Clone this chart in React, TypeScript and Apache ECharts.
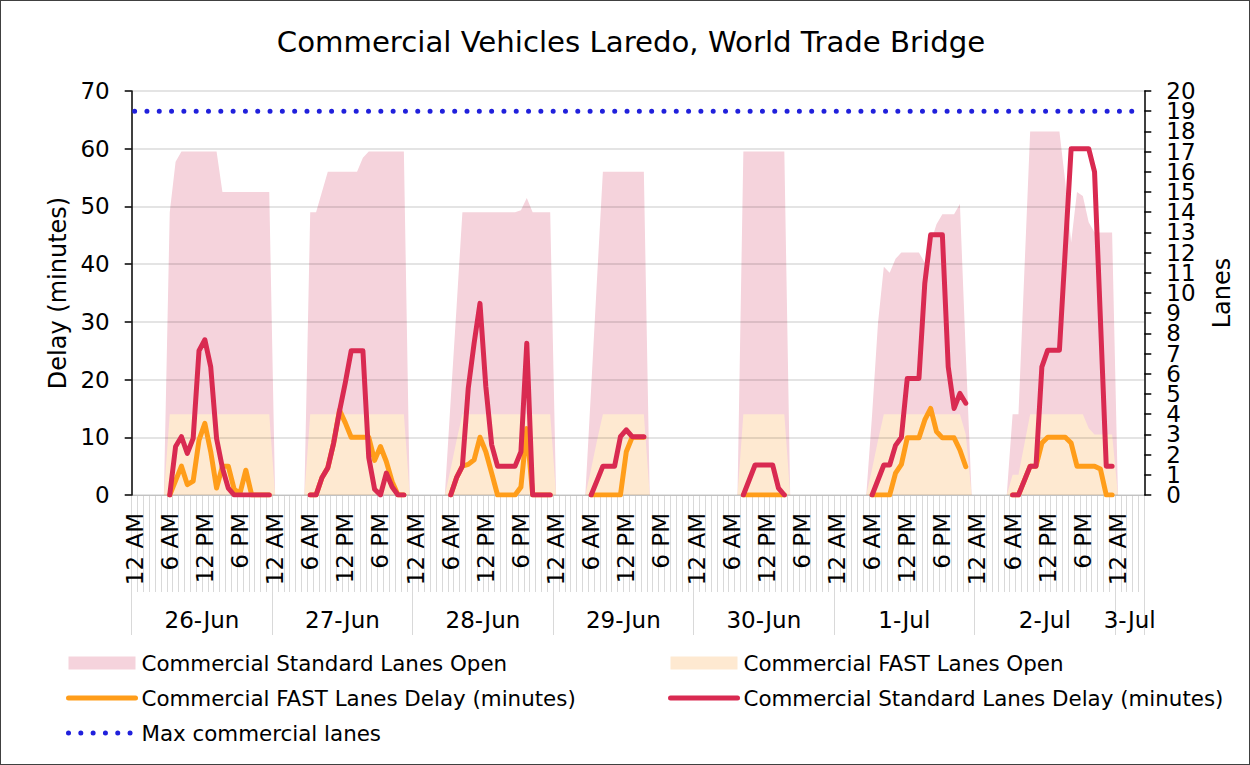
import { useEffect, useRef } from "react";
import * as echarts from "echarts";

// ---------- data ----------
const dayLabels = ["26-Jun", "27-Jun", "28-Jun", "29-Jun", "30-Jun", "1-Jul", "2-Jul", "3-Jul"];
const hoursPerDay = [24, 24, 24, 24, 24, 24, 24, 5];
const hourLabels = [
  "12 AM", "1 AM", "2 AM", "3 AM", "4 AM", "5 AM", "6 AM", "7 AM", "8 AM", "9 AM", "10 AM", "11 AM",
  "12 PM", "1 PM", "2 PM", "3 PM", "4 PM", "5 PM", "6 PM", "7 PM", "8 PM", "9 PM", "10 PM", "11 PM",
];
const delayTicks = [0, 10, 20, 30, 40, 50, 60, 70];
const laneTicksEven = [0, 2, 4, 6, 8, 10, 12, 14, 16, 18, 20];
const laneTicksOdd = [1, 3, 5, 7, 9, 11, 13, 15, 17, 19];
const laneMax = 20;
const maxCommercialLanes = 19;

const _ = null;

// Commercial Standard Lanes Open (lanes, right axis)
const standardLanesOpen = [
  0, 0, 0, 0, 0, 0, 14, 16.5, 17, 17, 17, 17, 17, 17, 17, 15, 15, 15, 15, 15, 15, 15, 15, 15,
  0, 0, 0, 0, 0, 0, 14, 14, 15, 16, 16, 16, 16, 16, 16, 16.7, 17, 17, 17, 17, 17, 17, 17, 0,
  0, 0, 0, 0, 0, 0, 4.7, 9.3, 14, 14, 14, 14, 14, 14, 14, 14, 14, 14, 14.1, 14.7, 14, 14, 14, 14,
  0, 0, 0, 0, 0, 0, 5.3, 10.7, 16, 16, 16, 16, 16, 16, 16, 16, 0, 0, 0, 0, 0, 0, 0, 0,
  0, 0, 0, 0, 0, 0, 0, 0, 17, 17, 17, 17, 17, 17, 17, 17, 0, 0, 0, 0, 0, 0, 0, 0,
  0, 0, 0, 0, 0, 0, 4, 8.5, 11.3, 11, 11.7, 12, 12, 12, 12, 11.5, 12.5, 13.4, 13.9, 13.9, 13.9, 14.4, 7, 0,
  0, 0, 0, 0, 0, 0, 4, 4, 11, 18, 18, 18, 18, 18, 18, 15.5, 12.5, 15, 14.8, 13.5, 13, 13, 13, 13,
  0, 0, 0, 0, 0,
];

// Commercial FAST Lanes Open (lanes, right axis)
const fastLanesOpen = [
  0, 0, 0, 0, 0, 0, 4, 4, 4, 4, 4, 4, 4, 4, 4, 4, 4, 4, 4, 4, 4, 4, 4, 4,
  0, 0, 0, 0, 0, 0, 4, 4, 4, 4, 4, 4, 4, 4, 4, 4, 4, 4, 4, 4, 4, 4, 4, 0,
  0, 0, 0, 0, 0, 0, 1.3, 2.7, 4, 4, 4, 4, 4, 4, 4, 4, 4, 4, 4, 4, 4, 4, 4, 4,
  0, 0, 0, 0, 0, 0, 1.3, 2.7, 4, 4, 4, 4, 4, 4, 4, 4, 0, 0, 0, 0, 0, 0, 0, 0,
  0, 0, 0, 0, 0, 0, 0, 0, 4, 4, 4, 4, 4, 4, 4, 4, 0, 0, 0, 0, 0, 0, 0, 0,
  0, 0, 0, 0, 0, 0, 1.3, 2.7, 4, 4, 4, 4, 4, 4, 4, 4, 4, 4, 4, 4, 4, 4, 3, 0,
  0, 0, 0, 0, 0, 0, 1, 1, 2.5, 4, 4, 4, 4, 4, 4, 4, 4, 4, 4, 3.3, 3, 3, 3, 3,
  0, 0, 0, 0, 0,
];

// Commercial FAST Lanes Delay (minutes, left axis)
const fastLanesDelay = [
  _, _, _, _, _, _, 0, 2.5, 5, 1.8, 2.4, 9.5, 12.4, 7.5, 1.2, 5, 5, 1, 0.3, 4.3, 0, 0, 0, 0,
  _, _, _, _, _, _, 0, 0, 3, 4.7, 9, 14.7, 12.5, 10, 10, 10, 10, 6, 8.4, 5.8, 2.3, 0, 0, _,
  _, _, _, _, _, _, 0, 3, 5, 5.3, 6.1, 10, 7.5, 3.8, 0, 0, 0, 0, 1.4, 11.5, 0, 0, 0, 0,
  _, _, _, _, _, _, 0, 0, 0, 0, 0, 0, 7.5, 10, 10, 10, _, _, _, _, _, _, _, _,
  _, _, _, _, _, _, _, _, 0, 0, 0, 0, 0, 0, 0, 0, _, _, _, _, _, _, _, _,
  _, _, _, _, _, _, 0, 0, 0, 0, 3.8, 5.3, 9.9, 9.9, 9.9, 13, 15, 11, 9.9, 9.9, 9.9, 7.8, 4.9, _,
  _, _, _, _, _, _, 0, 0, 2.5, 5, 5, 9, 10, 10, 10, 10, 9, 5, 5, 5, 5, 4.5, 0, 0,
  _, _, _, _, _,
];

// Commercial Standard Lanes Delay (minutes, left axis)
const standardLanesDelay = [
  _, _, _, _, _, _, 0, 8.4, 10.1, 7.2, 9.8, 25, 26.9, 22.2, 9.8, 4.7, 1.2, 0, 0, 0, 0, 0, 0, 0,
  _, _, _, _, _, _, 0, 0, 3, 4.7, 9, 14.5, 19.5, 25, 25, 25, 6.5, 1, 0, 3.8, 1.4, 0, 0, _,
  _, _, _, _, _, _, 0, 3, 5, 18.5, 26.3, 33.2, 18.8, 8.7, 5, 5, 5, 5, 7.5, 26.3, 0, 0, 0, 0,
  _, _, _, _, _, _, 0, 2.5, 5, 5, 5, 10.1, 11.3, 10.1, 10.1, 10.1, _, _, _, _, _, _, _, _,
  _, _, _, _, _, _, _, _, 0, 2.6, 5.2, 5.2, 5.2, 5.2, 1.2, 0, _, _, _, _, _, _, _, _,
  _, _, _, _, _, _, 0, 2.6, 5.2, 5.2, 8.6, 10, 20.2, 20.2, 20.2, 36.7, 45.1, 45.1, 45.1, 22.2, 15, 17.6, 15.9, _,
  _, _, _, _, _, _, 0, 0, 2.5, 5, 5, 22.2, 25.1, 25.1, 25.1, 42.5, 60, 60, 60, 60, 56, 30.5, 5, 5,
  _, _, _, _, _,
];

// ---------- derived axis helpers ----------
const categories: string[] = dayLabels.flatMap((d, k) =>
  hourLabels.slice(0, hoursPerDay[k]).map((h) => `${d} ${h}`)
);
const totalHours = categories.length;
const dayStarts: number[] = [];
hoursPerDay.reduce((acc, n) => {
  dayStarts.push(acc);
  return acc + n;
}, 0);
const dayBoundaries = [...dayStarts, totalHours];
const dayCenters = dayStarts.map((s, k) => s + hoursPerDay[k] / 2);

const FONT = "'DejaVu Sans', Verdana, sans-serif";
const TITLE = "Commercial Vehicles Laredo, World Trade Bridge";
const SERIES_STD_OPEN = "Commercial Standard Lanes Open";
const SERIES_FAST_OPEN = "Commercial FAST Lanes Open";
const SERIES_FAST_DELAY = "Commercial FAST Lanes Delay (minutes)";
const SERIES_STD_DELAY = "Commercial Standard Lanes Delay (minutes)";
const SERIES_MAX = "Max commercial lanes";

const PINK = "#f5d3dc";
const CREAM = "#fee9d1";
const ORANGE = "#ff9d1a";
const CRIMSON = "#d92a51";
const BLUE = "#2020dc";
const LINE_W = 5;
const DOT_STYLE = { width: 5, color: BLUE, type: [0.01, 12.3], cap: "round" };

function buildOption(): any {
  const legendCommon = {
    orient: "vertical",
    top: 650,
    padding: 0,
    itemWidth: 67,
    itemHeight: 13,
    itemGap: 9,
    selectedMode: false,
    textStyle: { fontSize: 21.4, color: "#000", fontFamily: FONT, lineHeight: 26, padding: [0, 0, 0, 1] },
  };
  const hiddenSymbol = { opacity: 0 };
  const laneLabelStyle = {
    fontSize: 23,
    color: "#000",
    fontFamily: FONT,
    margin: 22,
    hideOverlap: false,
  };
  return {
    animation: false,
    backgroundColor: "#ffffff",
    textStyle: { fontFamily: FONT },
    graphic: [
      {
        type: "text",
        x: 631,
        y: 42,
        style: {
          text: TITLE,
          fill: "#000",
          font: `29.2px ${FONT}`,
          textAlign: "center",
          textVerticalAlign: "middle",
        },
      },
    ],
    grid: {
      left: 131.7,
      right: 105.7,
      top: 91,
      bottom: 270,
      containLabel: false,
      outerBoundsMode: "none",
    },
    legend: [
      {
        ...legendCommon,
        left: 66,
        data: [
          { name: SERIES_STD_OPEN, icon: "rect" },
          { name: SERIES_FAST_DELAY, itemStyle: hiddenSymbol, lineStyle: { width: LINE_W, color: ORANGE } },
          { name: SERIES_MAX, itemStyle: hiddenSymbol, lineStyle: DOT_STYLE },
        ],
      },
      {
        ...legendCommon,
        left: 668,
        data: [
          { name: SERIES_FAST_OPEN, icon: "rect" },
          { name: SERIES_STD_DELAY, itemStyle: hiddenSymbol, lineStyle: { width: LINE_W, color: CRIMSON } },
        ],
      },
    ],
    xAxis: [
      {
        type: "category",
        data: categories,
        boundaryGap: true,
        axisLine: { show: true, lineStyle: { color: "#d9d9d9", width: 1 } },
        axisTick: { show: true, interval: 0, length: 97, lineStyle: { color: "#d9d9d9", width: 1 } },
        axisLabel: {
          interval: (i: number) => i % 6 === 0,
          rotate: 90,
          fontSize: 23,
          color: "#000",
          fontFamily: FONT,
          margin: 18,
          formatter: (v: string) => v.split(" ").slice(1).join(" "),
        },
        splitLine: { show: false },
      },
      {
        type: "value",
        position: "bottom",
        min: 0,
        max: totalHours,
        axisLine: { show: false },
        axisTick: {
          show: true,
          customValues: dayBoundaries,
          length: 140,
          lineStyle: { color: "#d9d9d9", width: 1 },
        },
        axisLabel: {
          customValues: dayCenters,
          fontSize: 23,
          color: "#000",
          fontFamily: FONT,
          margin: 113,
          formatter: (v: number) => {
            const k = dayCenters.findIndex((c) => Math.abs(c - v) < 0.01);
            return k >= 0 ? dayLabels[k] : "";
          },
        },
        splitLine: { show: false },
      },
    ],
    yAxis: [
      {
        type: "value",
        position: "left",
        min: delayTicks[0],
        max: delayTicks[delayTicks.length - 1],
        interval: delayTicks[1] - delayTicks[0],
        name: "Delay (minutes)",
        nameLocation: "middle",
        nameRotate: 90,
        nameGap: 62,
        nameTextStyle: { fontSize: 24, color: "#000", fontFamily: FONT },
        axisLine: { show: true, lineStyle: { color: "#000", width: 1.5 } },
        axisTick: { show: true, length: 7, lineStyle: { color: "#000", width: 1.5 } },
        axisLabel: {
          fontSize: 23,
          color: "#000",
          fontFamily: FONT,
          margin: 22,
          showMinLabel: true,
          showMaxLabel: true,
          hideOverlap: false,
        },
        splitLine: { show: true, lineStyle: { color: "rgba(0,0,0,0.14)", width: 1.5 } },
        z: 3,
      },
      {
        // Lanes axis: line, ticks and even labels
        type: "value",
        position: "right",
        min: 0,
        max: laneMax,
        interval: 1,
        name: "Lanes",
        nameLocation: "middle",
        nameRotate: 90,
        nameGap: 66,
        nameTextStyle: { fontSize: 24, color: "#000", fontFamily: FONT },
        axisLine: { show: true, lineStyle: { color: "#000", width: 1.5 } },
        axisTick: { show: true, length: 7, lineStyle: { color: "#000", width: 1.5 } },
        axisLabel: { ...laneLabelStyle, customValues: laneTicksEven, showMinLabel: true, showMaxLabel: true },
        splitLine: { show: false },
        z: 3,
      },
      {
        // Lanes axis: odd labels only (so dense labels are all kept)
        type: "value",
        position: "right",
        offset: 0,
        min: 0,
        max: laneMax,
        interval: 1,
        axisLine: { show: false },
        axisTick: { show: false },
        axisLabel: { ...laneLabelStyle, customValues: laneTicksOdd, showMinLabel: true, showMaxLabel: true },
        splitLine: { show: false },
        z: 3,
      },
    ],
    series: [
      {
        name: SERIES_STD_OPEN,
        type: "line",
        xAxisIndex: 0,
        yAxisIndex: 1,
        data: standardLanesOpen,
        symbol: "none",
        color: PINK,
        itemStyle: { color: PINK },
        lineStyle: { width: 0, color: PINK },
        areaStyle: { color: PINK, opacity: 1 },
        z: 1,
      },
      {
        name: SERIES_FAST_OPEN,
        type: "line",
        xAxisIndex: 0,
        yAxisIndex: 1,
        data: fastLanesOpen,
        symbol: "none",
        color: CREAM,
        itemStyle: { color: CREAM },
        lineStyle: { width: 0, color: CREAM },
        areaStyle: { color: CREAM, opacity: 1 },
        z: 2,
      },
      {
        name: SERIES_FAST_DELAY,
        type: "line",
        xAxisIndex: 0,
        yAxisIndex: 0,
        data: fastLanesDelay,
        symbol: "none",
        color: ORANGE,
        lineStyle: { width: LINE_W, color: ORANGE, join: "round", cap: "round" },
        z: 5,
      },
      {
        name: SERIES_STD_DELAY,
        type: "line",
        xAxisIndex: 0,
        yAxisIndex: 0,
        data: standardLanesDelay,
        symbol: "none",
        color: CRIMSON,
        lineStyle: { width: LINE_W, color: CRIMSON, join: "round", cap: "round" },
        z: 6,
      },
      {
        name: SERIES_MAX,
        type: "line",
        xAxisIndex: 0,
        yAxisIndex: 1,
        data: categories.map(() => maxCommercialLanes),
        symbol: "none",
        color: BLUE,
        lineStyle: DOT_STYLE,
        z: 6,
      },
    ],
  };
}

export default function App() {
  const ref = useRef<HTMLDivElement>(null);
  useEffect(() => {
    if (!ref.current) return;
    const chart = echarts.init(ref.current, null, { renderer: "svg" });
    chart.setOption(buildOption());
    return () => chart.dispose();
  }, []);
  return (
    <div style={{ position: "absolute", left: 0, top: 0, width: 1250, height: 765, background: "#fff" }}>
      <div ref={ref} style={{ width: 1250, height: 765 }} />
      <div
        style={{
          position: "absolute",
          left: 0,
          top: 0,
          width: 1250,
          height: 765,
          boxSizing: "border-box",
          border: "1px solid #404040",
          pointerEvents: "none",
        }}
      />
    </div>
  );
}
